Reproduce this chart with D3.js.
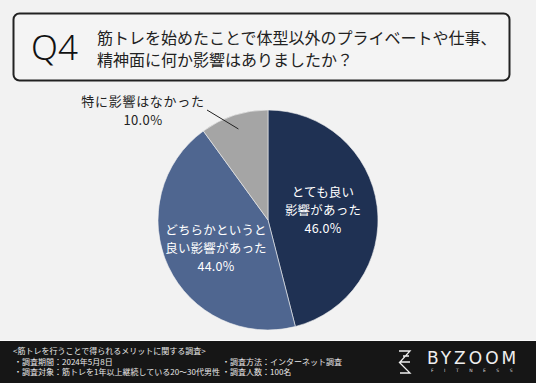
<!DOCTYPE html>
<html><head><meta charset="utf-8">
<script src="https://cdn.jsdelivr.net/npm/d3@7"></script>
<style>html,body{margin:0;padding:0;background:#f2f2f2;}svg{display:block;}</style>
</head><body>
<svg id="c" width="536" height="383"></svg>
<script>
const categories = ["とても良い影響があった", "どちらかというと良い影響があった", "特に影響はなかった"];
const labelLines = [["とても良い", "影響があった"], ["どちらかというと", "良い影響があった"], ["特に影響はなかった"]];
const values = [46.0, 44.0, 10.0];
const colors = ["#1f3153", "#4f6690", "#a5a5a5"];
const titleLines = ["筋トレを始めたことで体型以外のプライベートや仕事、", "精神面に何か影響はありましたか？"];
const footerLeft = ["<筋トレを行うことで得られるメリットに関する調査>", "・調査期間：2024年5月8日", "・調査対象：筋トレを1年以上継続している20〜30代男性"];
const footerRight = ["・調査方法：インターネット調査", "・調査人数：100名"];

const svg = d3.select("#c");
const font = "'Noto Sans CJK JP','Noto Sans',sans-serif";
svg.append("rect").attr("width", 536).attr("height", 383).attr("fill", "#f2f2f2");

// title box
svg.append("rect").attr("x", 13.5).attr("y", 13.5).attr("width", 496).attr("height", 67)
  .attr("rx", 6).attr("fill", "#f4f4f4").attr("stroke", "#222").attr("stroke-width", 2);
svg.append("text").attr("x", 31).attr("y", 60).attr("font-family", "'Noto Sans',sans-serif")
  .attr("font-size", 35).attr("font-weight", 300).attr("fill", "#111").text("Q4");
svg.selectAll("text.title").data(titleLines).join("text").attr("class", "title")
  .attr("x", 97).attr("y", (d, i) => 44 + i * 22).attr("font-family", font)
  .attr("font-size", 16).attr("fill", "#222").text(d => d);

// pie
const cx = 268, cy = 220, r = 110;
const pie = d3.pie().sort(null).value(d => d)(values);
const arc = d3.arc().innerRadius(0).outerRadius(r);
const g = svg.append("g").attr("transform", `translate(${cx},${cy})`);
g.selectAll("path").data(pie).join("path").attr("d", arc)
  .attr("fill", (d, i) => colors[i]).attr("stroke", "#f2f2f2").attr("stroke-width", 0.6);

// inner labels
const inner = [{x: 323, y: 197}, {x: 216, y: 235}];
inner.forEach((p, i) => {
  const lines = labelLines[i].concat([values[i].toFixed(1) + "%"]);
  svg.append("g").selectAll("text").data(lines).join("text")
    .attr("x", p.x).attr("y", (d, j) => p.y + j * 18).attr("text-anchor", "middle")
    .attr("font-family", font).attr("font-size", 12.5).attr("fill", "#fff")
    .attr("letter-spacing", 0.2).text(d => d);
});

// outside label for gray slice
const gd = pie[2];
const mid = (gd.startAngle + gd.endAngle) / 2;
const inPt = [cx + Math.sin(mid) * r * 0.87, cy - Math.cos(mid) * r * 0.87];
svg.append("line").attr("x1", inPt[0]).attr("y1", inPt[1]).attr("x2", 207).attr("y2", 110)
  .attr("stroke", "#222").attr("stroke-width", 1);
svg.append("text").attr("x", 143).attr("y", 106).attr("text-anchor", "middle")
  .attr("font-family", font).attr("font-size", 13).attr("letter-spacing", 0.7).attr("fill", "#222").text(labelLines[2][0]);
svg.append("text").attr("x", 143).attr("y", 125).attr("text-anchor", "middle")
  .attr("font-family", font).attr("font-size", 13).attr("letter-spacing", 0.4).attr("fill", "#222").text(values[2].toFixed(1) + "%");

// footer
svg.append("rect").attr("x", 0).attr("y", 340).attr("width", 536).attr("height", 1).attr("fill", "#fafafa");
svg.append("rect").attr("x", 0).attr("y", 341).attr("width", 536).attr("height", 42).attr("fill", "#161616");
svg.selectAll("text.fl").data(footerLeft).join("text").attr("class", "fl")
  .attr("x", (d, i) => i === 0 ? 13 : 14).attr("y", (d, i) => 354 + i * 10.5)
  .attr("font-family", font).attr("font-size", 8).attr("fill", "#e8e8e8").text(d => d);
svg.selectAll("text.fr").data(footerRight).join("text").attr("class", "fr")
  .attr("x", 222).attr("y", (d, i) => 364.5 + i * 10.5)
  .attr("font-family", font).attr("font-size", 8).attr("fill", "#e8e8e8").text(d => d);

// logo
const lg = svg.append("g").attr("fill", "none").attr("stroke", "#eee").attr("stroke-width", 1.3);
lg.append("path").attr("d", "M399,351 H410 L400,362 H410 M399,362 L410,373 H400 M403,356 H409");
svg.append("text").attr("x", 427).attr("y", 364).attr("font-family", "'DejaVu Sans',sans-serif")
  .attr("font-size", 17).attr("letter-spacing", 3).attr("fill", "#eee").text("BYZOOM");
svg.append("text").attr("x", 431).attr("y", 372).attr("font-family", "'DejaVu Sans',sans-serif")
  .attr("font-size", 4.5).attr("letter-spacing", 10.5).attr("fill", "#ddd").text("FITNESS");
</script>
</body></html>
